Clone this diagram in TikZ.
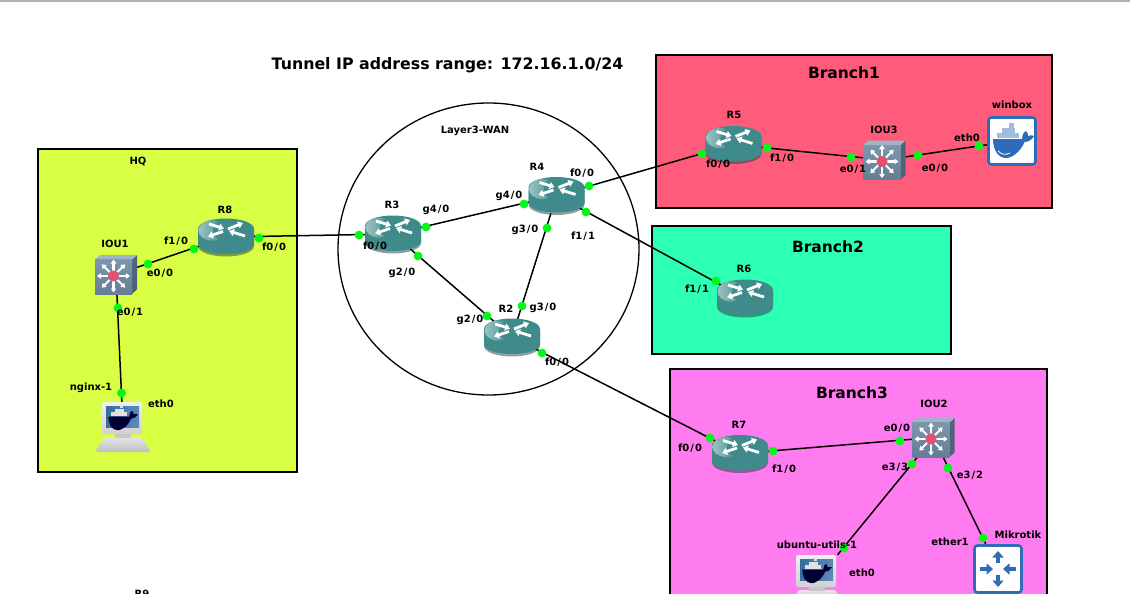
\documentclass[tikz,border=0pt]{standalone}
\usepackage{fontspec}
\setmainfont{DejaVu Sans}
\usetikzlibrary{shapes.geometric,arrows.meta}
\definecolor{hqc}{HTML}{D8FF44}
\definecolor{bra}{HTML}{FF5C7C}
\definecolor{brb}{HTML}{2DFFB4}
\definecolor{brc}{HTML}{FF7CF0}
\definecolor{teal1}{HTML}{3F8B8B}
\definecolor{teal2}{HTML}{9DC2C0}
\definecolor{dkblue}{HTML}{2E6BB8}
\definecolor{swf}{HTML}{6E8BA6}
\definecolor{dotc}{HTML}{00F81A}
\definecolor{redc}{HTML}{E4506F}
\definecolor{scrn}{HTML}{3E78AC}
\newcommand{\sep}{\kern1pt/\kern1pt}
\tikzset{
  x=1pt,y=-1pt,
  region/.style={draw=black,line width=1.3pt},
  lbl/.style={font=\bfseries\fontsize{10}{11}\selectfont,inner sep=0pt,text=black},
  big/.style={font=\bfseries\fontsize{15.5}{18}\selectfont,inner sep=0pt,text=black},
  link/.style={draw=black,line width=1.5pt},
  dot/.style={circle,fill=dotc,draw=none,minimum size=8.8pt,inner sep=0pt},
  rtr/.style={ellipse,minimum width=56pt,minimum height=36pt,inner sep=0pt,draw=none},
  swt/.style={rectangle,minimum width=42pt,minimum height=39pt,inner sep=0pt,draw=none},
  dpc/.style={rectangle,minimum width=54pt,minimum height=50pt,inner sep=0pt,draw=none},
  dbx/.style={rectangle,minimum width=50pt,minimum height=50pt,inner sep=0pt,draw=none},
  wht/.style={draw=white,line width=2.8pt,-{Triangle[length=5pt,width=7pt]}},
  routericon/.pic={
    \fill[black!55!teal1,opacity=.5] (-28,-6) -- (28,-6) -- (28,9) .. controls (28,15.5) and (14,19.5) .. (0,19.5) .. controls (-14,19.5) and (-28,15.5) .. (-28,9) -- cycle;
    \fill[teal1] (-28,-8) .. controls (-28,-14.5) and (-14,-18.5) .. (0,-18.5) .. controls (14,-18.5) and (28,-14.5) .. (28,-8) -- (28,7) .. controls (28,13.5) and (14,17) .. (0,17) .. controls (-14,17) and (-28,13.5) .. (-28,7) -- cycle;
    \shade[left color=teal2,middle color=teal1,right color=teal1] (-14,-6.5) ellipse [x radius=13.5,y radius=10];
    \fill[teal1] (-5,-6.5) ellipse [x radius=8,y radius=9];
    \draw[wht] (-17,-13) -- (-2,-8.5);
    \draw[wht] (2,-8) -- (17,-14);
    \draw[wht] (-3,-5.5) -- (-18,-0.5);
    \draw[wht] (19,-1) -- (3,-6);
  },
  switchicon/.pic={
    \fill[black!28!swf] (16,-15) -- (21,-19.5) -- (21,15) -- (16,19.5) -- cycle;
    \fill[swf!65!white] (-21,-15) -- (-16,-19.5) -- (21,-19.5) -- (16,-15) -- cycle;
    \shade[top color=swf!90!white,bottom color=swf!90!black] (-21,-15) rectangle (16,19.5);
    \foreach \a in {0,45,...,315}{
      \draw[draw=white,line width=2.1pt,-{Triangle[length=4pt,width=5.5pt]}] (-2.5,1.5) -- ++(\a:16.5);
    }
    \fill[redc] (-2.5,1.5) circle (5.6);
  },
  dockerpcicon/.pic={
    \shade[top color=black!10,bottom color=black!25] (-18,10) -- (18,10) -- (27,23) .. controls (27,25) and (26,25) .. (25,25) -- (-25,25) .. controls (-26,25) and (-27,25) .. (-27,23) -- cycle;
    \fill[black!22] (-8,6) rectangle (8,11);
    \shade[top color=black!6,bottom color=black!18,rounded corners=1.5pt] (-21,-25) rectangle (19,7);
    \shade[left color=scrn!90!black,right color=scrn!85!white] (-17,-21) rectangle (16,0);
    \begin{scope}[shift={(-1,-9)},scale=.72]
      \fill[black!80!blue] (-19,-2) -- (10,-2) .. controls (10,-6) and (12,-9) .. (14,-10) .. controls (16,-8) and (16.5,-6) .. (16,-5) .. controls (18,-6) and (20,-6) .. (22,-5) .. controls (20,-1) and (16,1) .. (12.5,1) .. controls (8,12) and (-1,17) .. (-6,17) .. controls (-15,17) and (-19,7) .. (-19,-2) -- cycle;
      \fill[black!12] (-15,-8) rectangle (7,-3);
      \fill[black!12] (-10,-13) rectangle (3,-8.5);
      \fill[black!12] (-3,-18) rectangle (2,-13.5);
    \end{scope}
  },
  dockerboxicon/.pic={
    \fill[white,draw=dkblue,line width=2.6pt,rounded corners=3pt] (-23.5,-23.5) rectangle (23.5,23.5);
    \fill[dkblue] (-19,-2) -- (10,-2) .. controls (10,-6) and (12,-9) .. (14,-10) .. controls (16,-8) and (16.5,-6) .. (16,-5) .. controls (18,-6) and (20,-6) .. (22,-5) .. controls (20,-1) and (16,1) .. (12.5,1) .. controls (8,12) and (-1,17) .. (-6,17) .. controls (-15,17) and (-19,7) .. (-19,-2) -- cycle;
    \fill[dkblue!45!white] (-15,-8) rectangle (7,-3);
    \fill[dkblue!45!white] (-10,-13) rectangle (3,-8.5);
    \fill[dkblue!45!white] (-3,-18) rectangle (2,-13.5);
    \draw[white,line width=.8pt] (-14,10) .. controls (-10,14) and (-6,14) .. (-2,12);
  },
  routerboxicon/.pic={
    \fill[white,draw=dkblue,line width=2.6pt,rounded corners=3pt] (-23.5,-23.5) rectangle (23.5,23.5);
    \foreach \r in {0,180}{
      \draw[dkblue,line width=3.2pt,-{Triangle[length=6.5pt,width=11pt]},rotate=\r] (0,-6) -- (0,-18);
      \draw[dkblue,line width=3.2pt,-{Triangle[length=6.5pt,width=11pt]},rotate=\r] (-18,0) -- (-5,0);
    }
  },
}
\begin{document}
\begin{tikzpicture}
\useasboundingbox (0,0) rectangle (1130,594);
\fill[white] (0,0) rectangle (1130,594);
\fill[black!30] (0,0) rectangle (1130,2.4);
% regions
\draw[region,fill=hqc] (38,149) rectangle (297,472);
\draw[region,fill=bra] (656,55) rectangle (1052,208);
\draw[region,fill=brb] (652,226) rectangle (951,354);
\draw[region,fill=brc] (670,369) rectangle (1047,610);
\draw[line width=1.3pt] (488.5,249) ellipse [x radius=150.5,y radius=146];
% device anchors
\node[rtr] (R8) at (226,237) {};
\node[rtr] (R3) at (393,234) {};
\node[rtr] (R4) at (556.5,195.5) {};
\node[rtr] (R2) at (512,337) {};
\node[rtr] (R5) at (733.5,144.5) {};
\node[rtr] (R6) at (745,298) {};
\node[rtr] (R7) at (740,453.5) {};
\node[swt] (IOU1) at (116,274.5) {};
\node[swt] (IOU3) at (884.5,160) {};
\node[swt] (IOU2) at (933.5,437.5) {};
\node[dpc] (nginx) at (123,427) {};
\node[dpc] (ubuntu) at (817,580) {};
\node[dbx] (winbox) at (1012,141) {};
\node[dbx] (mikrotik) at (998,569) {};
% links
\draw[link] (IOU1) -- (R8);
\draw[link] (IOU1) -- (nginx);
\draw[link] (R8) -- (R3);
\draw[link] (R3) -- (R4);
\draw[link] (R3) -- (R2);
\draw[link] (R4) -- (R2);
\draw[link] (R4) -- (R5);
\draw[link] (R4) -- (R6);
\draw[link] (R2) -- (R7);
\draw[link] (R5) -- (IOU3);
\draw[link] (IOU3) -- (winbox);
\draw[link] (R7) -- (IOU2);
\draw[link] (IOU2) -- (ubuntu);
\draw[link] (IOU2) -- (mikrotik);
% icons
\foreach \n in {R8,R3,R4,R2,R5,R6,R7}{\pic at (\n.center) {routericon};}
\foreach \n in {IOU1,IOU3,IOU2}{\pic at (\n.center) {switchicon};}
\pic at (nginx.center) {dockerpcicon};
\pic at (ubuntu.center) {dockerpcicon};
\pic at (winbox.center) {dockerboxicon};
\pic at (mikrotik.center) {routerboxicon};
% interface dots
\node[dot] (d1) at (259,238) {};
\node[dot] (d2) at (359,235) {};
\node[dot] (d3) at (148,264) {};
\node[dot] (d4) at (194,249) {};
\node[dot] (d5) at (118,308) {};
\node[dot] (d6) at (121.5,393) {};
\node[dot] (d7) at (426,227) {};
\node[dot] (d8) at (524,204) {};
\node[dot] (d9) at (418,256) {};
\node[dot] (d10) at (487,316) {};
\node[dot] (d11) at (547,228) {};
\node[dot] (d12) at (522,306) {};
\node[dot] (d13) at (589,186) {};
\node[dot] (d14) at (702,154) {};
\node[dot] (d15) at (586,212) {};
\node[dot] (d16) at (716,281) {};
\node[dot] (d17) at (542,353) {};
\node[dot] (d18) at (710,438) {};
\node[dot] (d19) at (767,148) {};
\node[dot] (d20) at (851,157) {};
\node[dot] (d21) at (918,155) {};
\node[dot] (d22) at (979,146) {};
\node[dot] (d23) at (773,451) {};
\node[dot] (d24) at (900,441) {};
\node[dot] (d25) at (912,464) {};
\node[dot] (d26) at (844,548) {};
\node[dot] (d27) at (948,468) {};
\node[dot] (d28) at (983,538) {};
% titles
\node[big,font=\bfseries\fontsize{15.8}{18}\selectfont] (title) at (447.5,65) {Tunnel IP address range: 172.16.1.0/24};
\node[big] (tb1) at (844,73) {Branch1};
\node[big] (tb2) at (828,247) {Branch2};
\node[big] (tb3) at (852,393) {Branch3};
% labels
\foreach \nm/\xx/\yy/\tx in {
 a1/138/162/HQ, a2/225/210/R8, a3/115/244/IOU1, a4/176/241/f1\sep0, a5/160/273/e0\sep0,
 a6/274/247/f0\sep0, a7/130/312/e0\sep1, a8/91/388/nginx-1, a9/161/404/eth0,
 b1/475/131/Layer3-WAN, b2/537/167/R4, b3/582/173/f0\sep0, b4/509/196/g4\sep0, b5/392/205/R3,
 b6/436/210/g4\sep0, b7/525/230/g3\sep0, b8/583/236/f1\sep1, b9/375/246/f0\sep0,
 b10/402/273/g2\sep0, b11/506/309/R2, b12/543/308/g3\sep0, b13/470/320/g2\sep0, b14/557/362/f0\sep0,
 c1/734/115/R5, c2/718/164/f0\sep0, c3/782/158/f1\sep0, c4/884/130/IOU3, c5/853/169/e0\sep1,
 c6/935/168/e0\sep0, c7/967/138/eth0, c8/1012/105/winbox,
 e1/744/269/R6, e2/697/289/f1\sep1,
 f1/739/425/R7, f2/690/448/f0\sep0, f3/784/469/f1\sep0, f4/934/404/IOU2, f5/897/428/e0\sep0,
 f6/895/467/e3\sep3, f7/970/475/e3\sep2, f8/817/545/ubuntu-utils-1, f9/862/573/eth0,
 f10/950/542/ether1, f11/1018/535/Mikrotik, g1/142/594/R9}{
  \node[lbl] (\nm) at (\xx,\yy) {\tx};
}
\end{tikzpicture}
\end{document}
